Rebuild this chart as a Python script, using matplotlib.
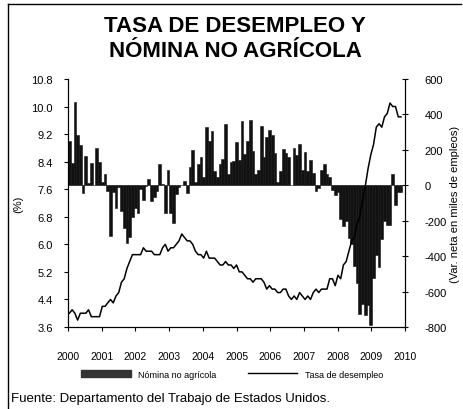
import numpy as np
import matplotlib
matplotlib.use('Agg')
import matplotlib.pyplot as plt
from matplotlib.lines import Line2D
from matplotlib.patches import Patch

plt.rcParams['font.family'] = ['Liberation Sans', 'DejaVu Sans']

# Datos mensuales, enero 2000 - febrero 2010
years = ['2000', '2001', '2002', '2003', '2004', '2005',
         '2006', '2007', '2008', '2009', '2010']

# Tasa de desempleo (%)
desempleo = [
    4.0, 4.1, 4.0, 3.8, 4.0, 4.0, 4.0, 4.1, 3.9, 3.9, 3.9, 3.9,
    4.2, 4.2, 4.3, 4.4, 4.3, 4.5, 4.6, 4.9, 5.0, 5.3, 5.5, 5.7,
    5.7, 5.7, 5.7, 5.9, 5.8, 5.8, 5.8, 5.7, 5.7, 5.7, 5.9, 6.0,
    5.8, 5.9, 5.9, 6.0, 6.1, 6.3, 6.2, 6.1, 6.1, 6.0, 5.8, 5.7,
    5.7, 5.6, 5.8, 5.6, 5.6, 5.6, 5.5, 5.4, 5.4, 5.5, 5.4, 5.4,
    5.3, 5.4, 5.2, 5.2, 5.1, 5.0, 5.0, 4.9, 5.0, 5.0, 5.0, 4.9,
    4.7, 4.8, 4.7, 4.7, 4.6, 4.6, 4.7, 4.7, 4.5, 4.4, 4.5, 4.4,
    4.6, 4.5, 4.4, 4.5, 4.4, 4.6, 4.7, 4.6, 4.7, 4.7, 4.7, 5.0,
    5.0, 4.8, 5.1, 5.0, 5.4, 5.5, 5.8, 6.1, 6.2, 6.6, 6.8, 7.3,
    7.7, 8.2, 8.6, 8.9, 9.4, 9.5, 9.4, 9.7, 9.8, 10.1, 10.0, 10.0,
    9.7, 9.7,
]

# Nómina no agrícola, variación neta (miles de empleos)
nomina = [
    249, 125, 472, 286, 225, -46, 166, 11, 124, 1, 211, 130,
    16, 61, -30, -286, -40, -127, -9, -145, -239, -326, -292, -180,
    -127, -157, -22, -83, -5, 38, -91, -68, -35, 122, 5, -157,
    84, -159, -214, -51, -10, -1, 22, -42, 103, 200, 19, 121,
    160, 45, 330, 251, 308, 83, 46, 118, 151, 346, 64, 133,
    135, 243, 145, 364, 174, 247, 369, 195, 63, 86, 336, 159,
    272, 310, 284, 183, 17, 79, 205, 180, 159, 1, 211, 170,
    232, 88, 189, 80, 143, 71, -32, -18, 84, 118, 62, 47,
    -28, -56, -38, -190, -231, -200, -300, -334, -458, -554, -728, -673,
    -734, -677, -790, -523, -395, -463, -304, -200, -225, -224, 64, -113,
    -38, -36,
]

meses = np.arange(len(desempleo))

fig = plt.figure(figsize=(4.64, 4.10), dpi=100)
ax = fig.add_axes([0.1466, 0.2, 0.7264, 0.605])
ax2 = ax.twinx()

# barras (eje derecho) y línea (eje izquierdo)
ax2.bar(meses, nomina, width=1.0, color='#111111', edgecolor='#111111', linewidth=0.4)
ax.plot(meses, desempleo, color='black', linewidth=1.1)
ax.set_zorder(ax2.get_zorder() + 1)
ax.patch.set_visible(False)

xmin, xmax = -0.5, 122.5
ax.set_xlim(xmin, xmax)
ax.set_ylim(3.6, 10.8)
ax2.set_ylim(-800, 600)

ax.set_yticks(np.arange(3.6, 10.81, 0.8))
ax.set_yticklabels([f'{v:.1f}' for v in np.arange(3.6, 10.81, 0.8)], fontsize=8)
ax2.set_yticks(np.arange(-800, 601, 200))
ax2.set_yticklabels([str(v) for v in range(-800, 601, 200)], fontsize=8)
ax.set_xticks(np.linspace(xmin, xmax, len(years)))
ax.set_xticklabels(years, fontsize=7.5)

for a in (ax, ax2):
    a.spines['top'].set_visible(False)
ax.tick_params(axis='y', direction='out', length=3, width=0.8, pad=8)
ax.tick_params(axis='x', direction='out', length=3, width=0.8, pad=14)
ax2.tick_params(axis='y', direction='inout', length=4, width=0.8, pad=12)

ax.set_ylabel('(%)', fontsize=8, labelpad=6)
ax2.set_ylabel('(Var. neta en miles de empleos)', fontsize=8, labelpad=2)

fig.text(0.507, 0.962, 'TASA DE DESEMPLEO Y\nNÓMINA NO AGRÍCOLA',
         ha='center', va='top', fontsize=16, fontweight='bold', linespacing=1.25)

handles = [Patch(facecolor='#333333', edgecolor='#333333'),
           Line2D([], [], color='black', linewidth=1.0)]
fig.legend(handles, ['Nómina no agrícola', 'Tasa de desempleo'],
           loc='center', bbox_to_anchor=(0.5, 0.085), ncol=2, frameon=False,
           fontsize=6.5, handlelength=5.5, handleheight=0.9, columnspacing=3.5)

fig.text(0.024, 0.028, 'Fuente: Departamento del Trabajo de Estados Unidos.',
         ha='left', va='center', fontsize=9.5)

# marco del recuadro
fig.add_artist(Line2D([0.018, 0.018], [0.0, 0.988], color='black', linewidth=1.0))
fig.add_artist(Line2D([0.018, 0.993], [0.988, 0.988], color='black', linewidth=1.0))

fig.savefig('out.png', dpi=100)
